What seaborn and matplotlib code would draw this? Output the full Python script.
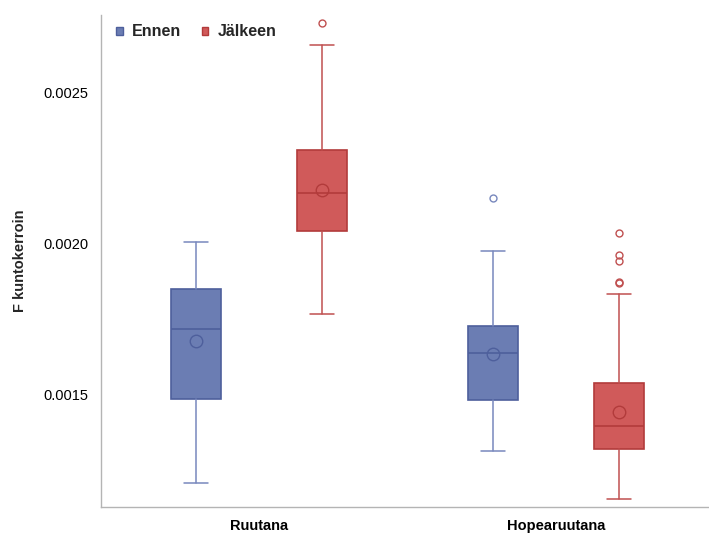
import matplotlib
matplotlib.use("Agg")
import matplotlib.pyplot as plt
from matplotlib.patches import Patch
import seaborn as sns

# ---- data ----
categories = ["Ruutana", "Hopearuutana"]
groups = ["Ennen", "Jälkeen"]
whislo = [[0.001209, 0.001769], [0.001314, 0.001155]]
q1 = [[0.001488, 0.002041], [0.001483, 0.001321]]
med = [[0.001718, 0.002166], [0.001640, 0.001397]]
q3 = [[0.001851, 0.002308], [0.001729, 0.001539]]
whishi = [[0.002006, 0.002656], [0.001977, 0.001834]]
means = [[0.001678, 0.002178], [0.001636, 0.001445]]
fliers = [[[], [0.002730]],
          [[0.002151], [0.002034, 0.001962, 0.001943, 0.001874, 0.001870]]]
yticks = [0.0015, 0.0020, 0.0025]
ylabel = "F kuntokerroin"

sns.set_style("white")
plt.rcParams["font.family"] = ["Liberation Sans", "DejaVu Sans"]

fills = ["#6b7db3", "#d05a5a"]
edges = ["#4e5f9c", "#b23b3b"]
whisk = ["#7888bd", "#c05050"]

fig = plt.figure(figsize=(7.09, 5.34), dpi=100)
ax = fig.add_axes([101 / 709, 27 / 534, 1 - 101 / 709, (507 - 15) / 534])

offset = 0.212
bw = 0.168
for ci, cat in enumerate(categories):
    for gi, g in enumerate(groups):
        pos = ci + (-offset if gi == 0 else offset)
        stats = [dict(whislo=whislo[ci][gi], q1=q1[ci][gi], med=med[ci][gi],
                      q3=q3[ci][gi], whishi=whishi[ci][gi], mean=means[ci][gi],
                      fliers=fliers[ci][gi], label=g)]
        ax.bxp(stats, positions=[pos], widths=bw, capwidths=bw * 0.48,
               patch_artist=True, showmeans=True, manage_ticks=False,
               boxprops=dict(facecolor=fills[gi], edgecolor=edges[gi], linewidth=1.2),
               medianprops=dict(color=edges[gi], linewidth=1.2),
               whiskerprops=dict(color=whisk[gi], linewidth=1.1),
               capprops=dict(color=whisk[gi], linewidth=1.1),
               meanprops=dict(marker="o", markerfacecolor="none",
                              markeredgecolor=edges[gi], markersize=9,
                              markeredgewidth=1.0),
               flierprops=dict(marker="o", markerfacecolor="none",
                               markeredgecolor=whisk[gi], markersize=5,
                               markeredgewidth=1.0))

ax.set_xlim((101 - 259) / 297, (709 - 259) / 297)
ax.set_ylim(0.0025 - (507 - 92.3) / 302.7 * 0.001,
            0.0025 + (92.3 - 15) / 302.7 * 0.001)
ax.set_xticks(range(len(categories)))
ax.set_xticklabels(categories, fontsize=10.5, fontweight="bold")
ax.set_yticks(yticks)
ax.set_yticklabels([f"{t:.4f}" for t in yticks], fontsize=10.5)
ax.set_ylabel(ylabel, fontsize=10.5, fontweight="bold", labelpad=12)

for s in ["top", "right"]:
    ax.spines[s].set_visible(False)
for s in ["left", "bottom"]:
    ax.spines[s].set_color("#b4b4b4")
    ax.spines[s].set_linewidth(1.0)
ax.tick_params(axis="both", which="both", length=5, width=1.0,
               color="#b4b4b4", pad=4, labelcolor="black")
ax.tick_params(axis="x", pad=3.5)

handles = [Patch(facecolor=fills[i], edgecolor=edges[i], label=groups[i])
           for i in range(len(groups))]
leg = ax.legend(handles=handles, loc="upper left", ncol=2, frameon=False,
                bbox_to_anchor=(0.012, 0.997), handlelength=0.42, handleheight=0.42,
                handletextpad=0.55, columnspacing=1.3,
                prop=dict(weight="bold", size=11.5, family=["Liberation Sans", "DejaVu Sans"]),
                borderaxespad=0.2, borderpad=0.3)

fig.savefig("out.png", dpi=100)
